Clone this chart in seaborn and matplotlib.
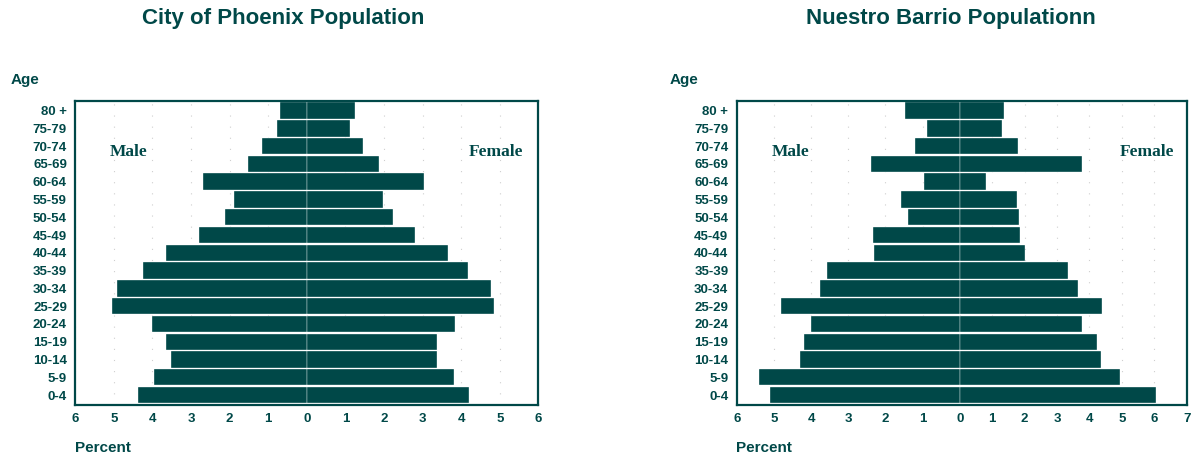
import numpy as np
import matplotlib
matplotlib.use("Agg")
import matplotlib.pyplot as plt
import seaborn as sns
import pandas as pd

# age groups, top to bottom
ages = ['80 +', '75-79', '70-74', '65-69', '60-64', '55-59', '50-54', '45-49', '40-44',
        '35-39', '30-34', '25-29', '20-24', '15-19', '10-14', '5-9', '0-4']

# percent of population
phx_male = [0.70, 0.78, 1.15, 1.53, 2.70, 1.90, 2.13, 2.80, 3.65,
            4.25, 4.91, 5.05, 4.02, 3.66, 3.51, 3.96, 4.37]
phx_female = [1.24, 1.12, 1.45, 1.88, 3.04, 1.97, 2.23, 2.81, 3.65,
              4.17, 4.76, 4.85, 3.83, 3.38, 3.38, 3.82, 4.21]

barrio_male = [1.46, 0.88, 1.21, 2.38, 0.96, 1.57, 1.39, 2.34, 2.30,
               3.57, 3.76, 4.82, 3.99, 4.20, 4.31, 5.40, 5.10]
barrio_female = [1.35, 1.29, 1.80, 3.78, 0.82, 1.78, 1.82, 1.85, 2.01,
                 3.35, 3.66, 4.40, 3.77, 4.24, 4.37, 4.94, 6.05]

TEAL = '#004848'

sns.set_style('white')
plt.rcParams['font.family'] = ['Liberation Sans', 'DejaVu Sans']

fig = plt.figure(figsize=(11.94, 4.58), dpi=100)
ax1 = fig.add_axes([0.063, 0.116, 0.388, 0.664])
ax2 = fig.add_axes([0.617, 0.116, 0.377, 0.664])


def draw(ax, male, female, xmax):
    df = pd.DataFrame({'age': ages, 'male': -np.array(male), 'female': female})
    sns.barplot(data=df, y='age', x='male', orient='h', color=TEAL, saturation=1,
                width=0.92, ax=ax, edgecolor='white', linewidth=0.25)
    sns.barplot(data=df, y='age', x='female', orient='h', color=TEAL, saturation=1,
                width=0.92, ax=ax, edgecolor='white', linewidth=0.25)
    ax.set_xlim(-6, xmax)
    ax.set_ylim(16.55, -0.55)
    ticks = list(range(-6, xmax + 1))
    ax.set_xticks(ticks)
    ax.set_xticklabels([str(abs(t)) for t in ticks])
    ax.set_xlabel('')
    ax.set_ylabel('')
    ax.xaxis.grid(True, color='#cfcfcf', linestyle=(0, (1, 9)), linewidth=0.8)
    ax.set_axisbelow(True)
    ax.tick_params(length=0, labelsize=9.5, labelcolor=TEAL, pad=6)
    for lab in ax.get_xticklabels() + ax.get_yticklabels():
        lab.set_fontweight('bold')
    for sp in ax.spines.values():
        sp.set_color(TEAL)
        sp.set_linewidth(1.6)


draw(ax1, phx_male, phx_female, 6)

# right chart: female side uses a narrower unit than male side
k = 33 / 37.8
def fwd(x):
    x = np.asarray(x, dtype=float)
    return np.where(x < 0, x, x * k)
def inv(y):
    y = np.asarray(y, dtype=float)
    return np.where(y < 0, y, y / k)

ax2.set_xscale('function', functions=(fwd, inv))
draw(ax2, barrio_male, barrio_female, 7)

serif = ['Liberation Serif', 'DejaVu Serif']
for ax, xm, xf in ((ax1, 0.075, 0.850), (ax2, 0.077, 0.850)):
    ax.text(xm, 0.82, 'Male', transform=ax.transAxes, fontsize=12.5, fontweight='bold',
            family=serif, color=TEAL)
    ax.text(xf, 0.82, 'Female', transform=ax.transAxes, fontsize=12.5, fontweight='bold',
            family=serif, color=TEAL)

fig.text(0.237, 0.96, 'City of Phoenix Population', ha='center', va='center',
         fontsize=16, fontweight='bold', color=TEAL)
fig.text(0.796, 0.96, 'Nuestro Barrio Populationn', ha='center', va='center',
         fontsize=16, fontweight='bold', color=TEAL)

for x in (0.009, 0.561):
    fig.text(x, 0.825, 'Age', ha='left', va='center', fontsize=11, fontweight='bold', color=TEAL)
fig.text(0.063, 0.022, 'Percent', ha='left', va='center', fontsize=11, fontweight='bold', color=TEAL)
fig.text(0.616, 0.022, 'Percent', ha='left', va='center', fontsize=11, fontweight='bold', color=TEAL)

fig.savefig('out.png', dpi=100, facecolor='white')
